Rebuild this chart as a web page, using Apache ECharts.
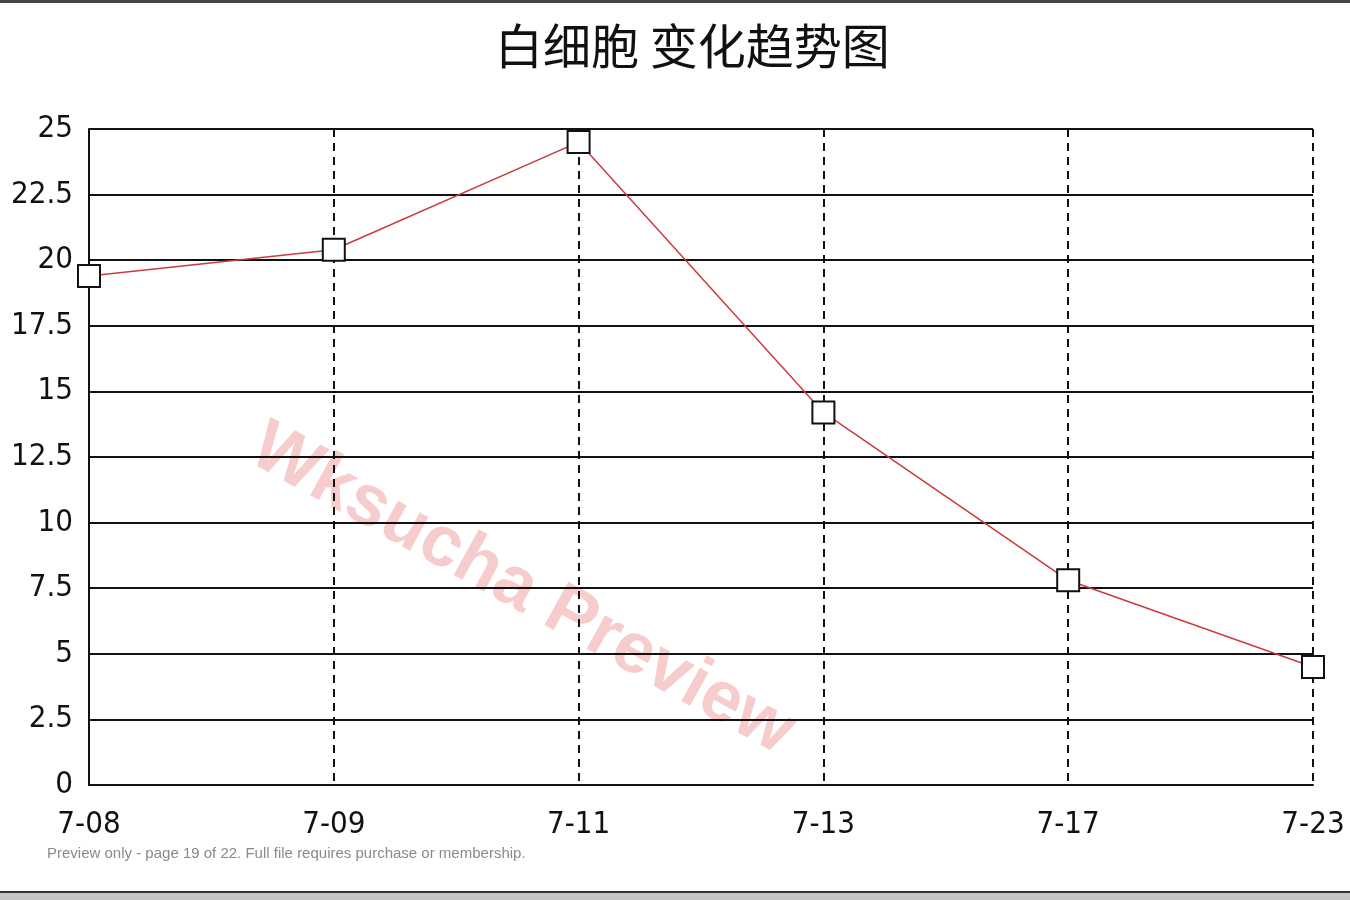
<!DOCTYPE html>
<html>
<head>
<meta charset="utf-8">
<script src="https://cdn.jsdelivr.net/npm/echarts@6/dist/echarts.min.js"></script>
<style>
html,body{margin:0;padding:0;background:#fff;}
#chart{width:1350px;height:900px;}
</style>
</head>
<body>
<div id="chart"></div>
<script>
var titleText = '白细胞 变化趋势图';
var categories = ['7-08', '7-09', '7-11', '7-13', '7-17', '7-23'];
var wbcValues = [19.4, 20.4, 24.5, 14.2, 7.8, 4.5];
var watermarkText = 'Wksucha Preview';
var footerText = 'Preview only - page 19 of 22. Full file requires purchase or membership.';

var labelFont = '"Liberation Sans Narrow", "DejaVu Sans Condensed", "Liberation Sans", sans-serif';

var chart = echarts.init(document.getElementById('chart'));
chart.setOption({
  backgroundColor: '#ffffff',
  animation: false,
  title: {
    text: titleText,
    left: 490,
    top: 17,
    textStyle: {
      fontFamily: '"Noto Sans CJK SC", sans-serif',
      fontSize: 48,
      fontWeight: 'normal',
      color: '#111'
    }
  },
  grid: { left: 89, right: 37, top: 129, bottom: 115, containLabel: false },
  xAxis: {
    type: 'category',
    data: categories,
    boundaryGap: false,
    axisLine: { show: true, lineStyle: { color: '#111', width: 2 } },
    axisTick: { show: false },
    axisLabel: {
      margin: 24,
      fontFamily: labelFont,
      fontSize: 31,
      color: '#111'
    },
    splitLine: { show: true, lineStyle: { color: '#111', width: 2, type: [8, 6] } }
  },
  yAxis: {
    type: 'value',
    min: 0,
    max: 25,
    interval: 2.5,
    axisLine: { show: true, lineStyle: { color: '#111', width: 2 } },
    axisTick: { show: false },
    axisLabel: {
      margin: 16,
      fontFamily: labelFont,
      fontSize: 31,
      color: '#111'
    },
    splitLine: { show: true, lineStyle: { color: '#111', width: 2, type: 'solid' } }
  },
  series: [{
    type: 'line',
    data: wbcValues,
    symbol: 'rect',
    symbolSize: 22,
    showAllSymbol: true,
    lineStyle: { color: '#cc3b3b', width: 1.5 },
    itemStyle: { color: '#ffffff', borderColor: '#111', borderWidth: 2 },
    z: 5
  }],
  graphic: [
    { type: 'rect', shape: { x: 0, y: 0, width: 1350, height: 3 }, style: { fill: '#444' }, z: 100 },
    { type: 'rect', shape: { x: 0, y: 891, width: 1350, height: 2 }, style: { fill: '#333' }, z: 100 },
    { type: 'rect', shape: { x: 0, y: 893, width: 1350, height: 7 }, style: { fill: '#c4c4c4' }, z: 100 },
    {
      type: 'text', left: 47, top: 846, z: 100,
      style: { text: footerText, fontFamily: '"Liberation Sans", Arial, sans-serif', fontSize: 15, fill: '#8a8a8a' }
    },
    {
      type: 'text', z: 0, zlevel: 0,
      x: 522, y: 590,
      rotation: -29 * Math.PI / 180,
      style: {
        text: watermarkText,
        fontFamily: '"Liberation Sans", Arial, sans-serif',
        fontSize: 72,
        fontWeight: 'bold',
        fill: 'rgba(230,110,110,0.35)',
        align: 'center',
        verticalAlign: 'middle'
      }
    }
  ]
});
</script>
</body>
</html>
